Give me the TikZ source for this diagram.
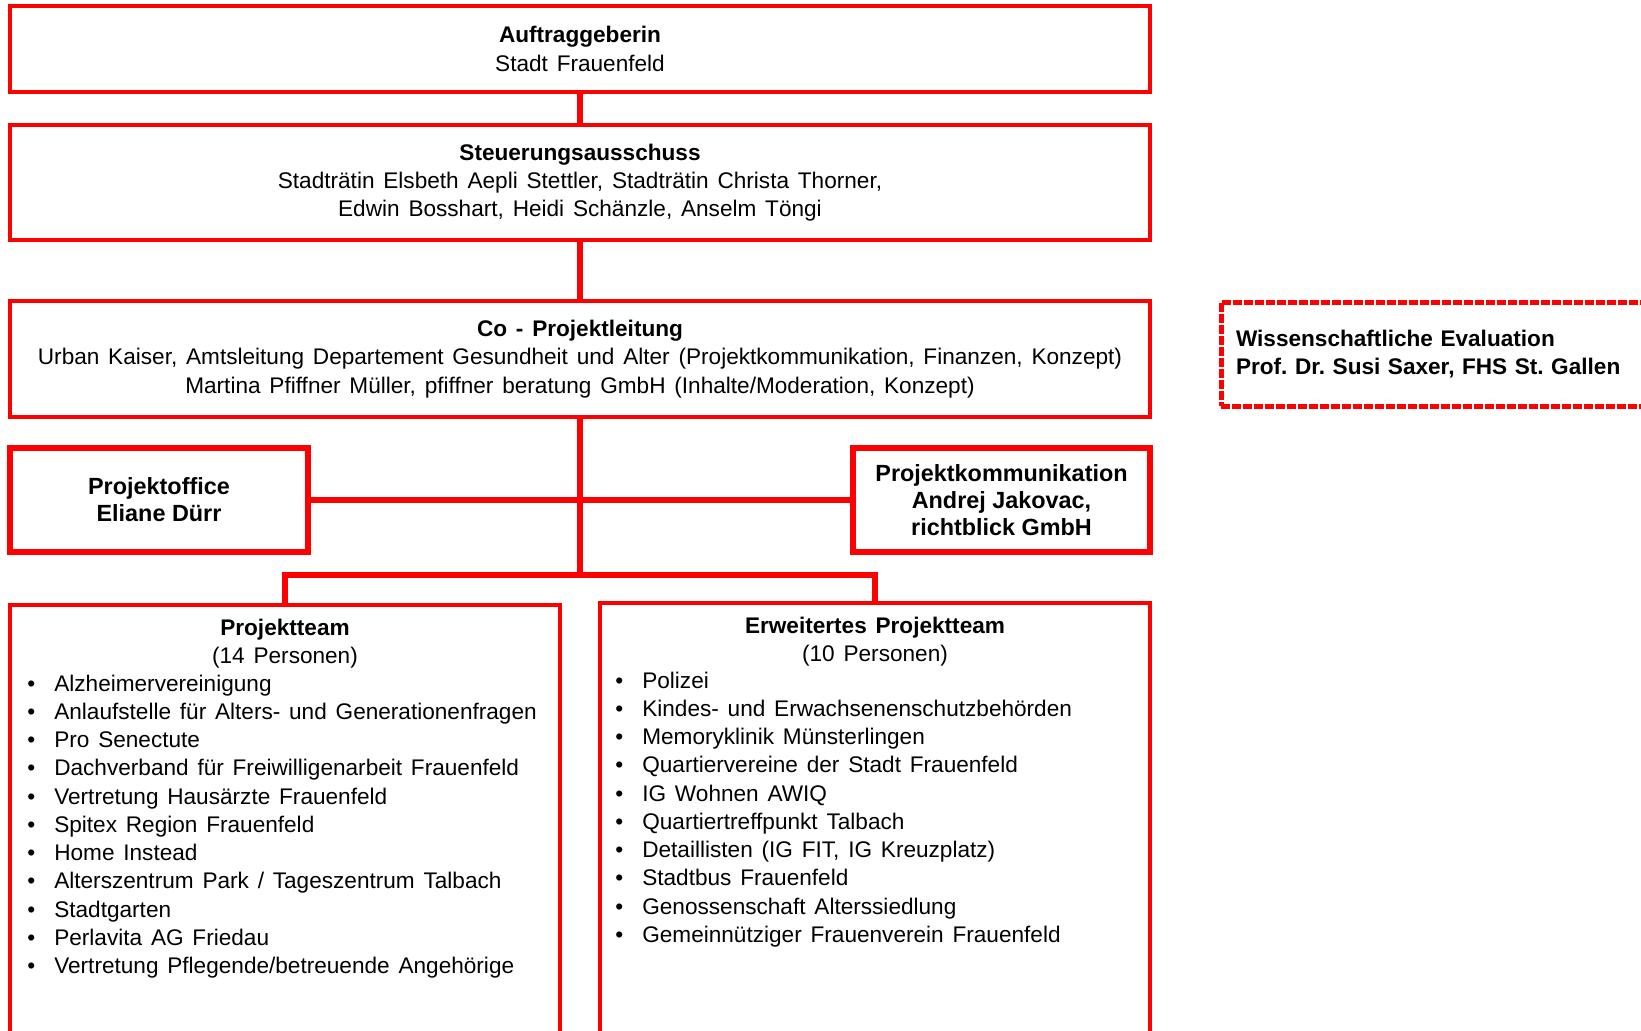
\documentclass[tikz,border=0pt]{standalone}
\usepackage{fontspec}
\setmainfont{Liberation Sans}
\newcommand{\listentry}[1]{\textbullet & #1\\}
\newcommand{\widespace}{\spaceskip=4.4pt plus 1pt minus 0.5pt\relax}

\begin{document}
\frenchspacing
\begin{tikzpicture}[x=0.5pt,y=-0.5pt,
	font=\fontsize{11.3}{14.13}\selectfont\widespace,
	box/.style={draw=red, line width=2.2pt, minimum width=570pt, align=center, inner sep=0pt},
	boldbox/.style={draw=red, line width=3.2pt, minimum width=149pt, minimum height=52pt, align=center, inner sep=0pt, font=\fontsize{11.7}{13.4}\selectfont\bfseries},
	teambox/.style={draw=red, line width=2.2pt, minimum width=275pt, minimum height=222pt, anchor=north},
	evalbox/.style={draw=red, line width=2.5pt, dash pattern=on 4.5pt off 1pt, minimum height=52pt, text width=209pt, inner xsep=7.5pt, align=left, font=\fontsize{11.3}{14}\selectfont\bfseries},
	link/.style={red, line width=2.6pt}]
	\useasboundingbox (0,0) rectangle (1641,1030);

	%top boxes
	\node[box, minimum height=43pt] (auftrag) at (580,49) {\textbf{Auftraggeberin}\\Stadt Frauenfeld};
	\node[box, minimum height=57.5pt] (steuer) at (580,182.5) {\textbf{Steuerungsausschuss}\\Stadträtin Elsbeth Aepli Stettler, Stadträtin Christa Thorner,\\Edwin Bosshart, Heidi Schänzle, Anselm Töngi};
	\node[box, minimum height=58pt] (colead) at (580,359) {\textbf{Co - Projektleitung}\\Urban Kaiser, Amtsleitung Departement Gesundheit und Alter (Projektkommunikation, Finanzen, Konzept)\\Martina Pfiffner Müller, pfiffner beratung GmbH (Inhalte/Moderation, Konzept)};
	\node[evalbox] (eval) at (1445,354) {Wissenschaftliche Evaluation\\Prof. Dr. Susi Saxer, FHS St. Gallen};

	%office and communication
	\node[boldbox] (office) at (159,500) {Projektoffice\\Eliane Dürr};
	\node[boldbox, minimum width=148.5pt] (komm) at (1001.5,500) {Projektkommunikation\\Andrej Jakovac,\\richtblick GmbH};

	%teams
	\node[teambox] (team) at (285,603) {};
	\node[teambox] (ext) at (875,601) {};
	\node[anchor=base, inner sep=0pt] (teamhead) at (285,635) {\begin{tabular}[t]{@{}c@{}}\textbf{Projektteam}\\(14 Personen)\end{tabular}};
	\node[anchor=base, inner sep=0pt] (exthead) at (875,633) {\begin{tabular}[t]{@{}c@{}}\textbf{Erweitertes Projektteam}\\(10 Personen)\end{tabular}};
	\node[anchor=base west, inner sep=0pt] (teamlist) at (27,691) {\begin{tabular}[t]{@{}l@{\hspace{9.5pt}}l@{}}
		\listentry{Alzheimervereinigung}
		\listentry{Anlaufstelle für Alters- und Generationenfragen}
		\listentry{Pro Senectute}
		\listentry{Dachverband für Freiwilligenarbeit Frauenfeld}
		\listentry{Vertretung Hausärzte Frauenfeld}
		\listentry{Spitex Region Frauenfeld}
		\listentry{Home Instead}
		\listentry{Alterszentrum Park / Tageszentrum Talbach}
		\listentry{Stadtgarten}
		\listentry{Perlavita AG Friedau}
		\listentry{Vertretung Pflegende/betreuende Angehörige}
	\end{tabular}};
	\node[anchor=base west, inner sep=0pt] (extlist) at (615,688) {\begin{tabular}[t]{@{}l@{\hspace{9.5pt}}l@{}}
		\listentry{Polizei}
		\listentry{Kindes- und Erwachsenenschutzbehörden}
		\listentry{Memoryklinik Münsterlingen}
		\listentry{Quartiervereine der Stadt Frauenfeld}
		\listentry{IG Wohnen AWIQ}
		\listentry{Quartiertreffpunkt Talbach}
		\listentry{Detaillisten (IG FIT, IG Kreuzplatz)}
		\listentry{Stadtbus Frauenfeld}
		\listentry{Genossenschaft Alterssiedlung}
		\listentry{Gemeinnütziger Frauenverein Frauenfeld}
	\end{tabular}};

	%lines
	\coordinate (bus) at (580,575);
	\draw[link] (auftrag) -- (steuer);
	\draw[link] (steuer) -- (colead);
	\draw[link] (colead.south) -- (bus);
	\draw[link] (office) -- (komm);
	\draw[link] (team.north) |- (bus) -| (ext.north);
\end{tikzpicture}
\end{document}
